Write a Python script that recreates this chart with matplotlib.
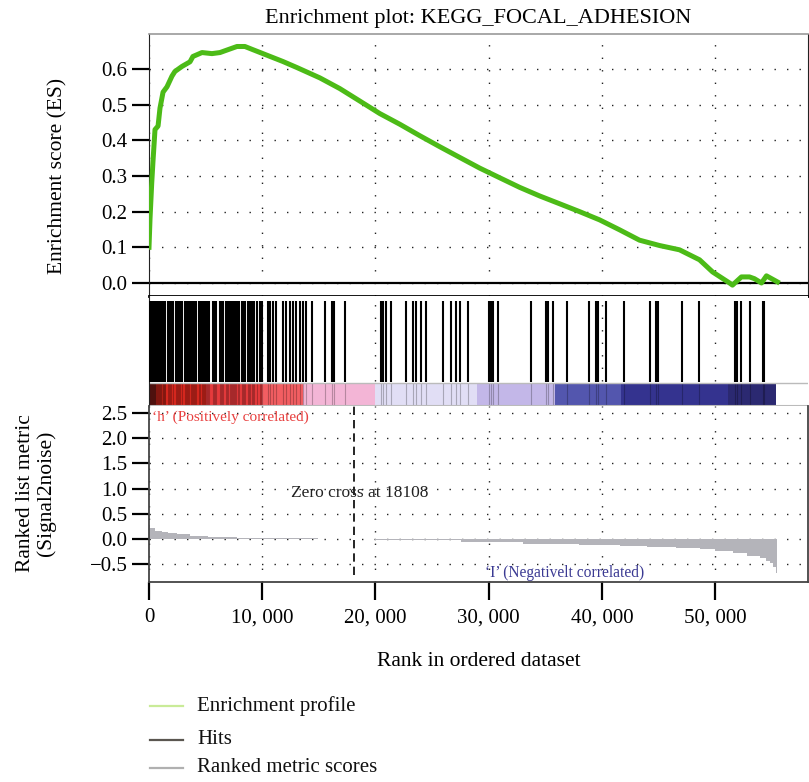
import numpy as np
import matplotlib
matplotlib.use("Agg")
import matplotlib.pyplot as plt
from matplotlib.lines import Line2D

plt.rcParams['font.family'] = ['Liberation Serif', 'DejaVu Serif']

# running enrichment score
es_rank = [0, 90, 240, 350, 530, 800, 970, 1240, 1590, 2030, 2290, 2910, 3620, 3880,
           4680, 5560, 6270, 6970, 7770, 8470, 9180, 10060, 10940, 11820, 13060, 15090,
           16850, 18620, 20380, 22150, 23910, 25680, 27440, 29210, 30970, 32740, 34500,
           36270, 38030, 39790, 41560, 43320, 45090, 46850, 48620, 49770, 51270, 51530,
           52320, 53030, 53470, 54090, 54530, 55500]
es_val = [0.10, 0.18, 0.28, 0.34, 0.43, 0.44, 0.49, 0.535, 0.55, 0.58, 0.593, 0.607,
          0.62, 0.635, 0.646, 0.643, 0.646, 0.654, 0.663, 0.663, 0.654, 0.643, 0.632,
          0.621, 0.604, 0.575, 0.545, 0.51, 0.475, 0.445, 0.413, 0.382, 0.352, 0.322,
          0.295, 0.268, 0.244, 0.222, 0.2, 0.177, 0.149, 0.12, 0.105, 0.093, 0.065,
          0.031, 0.0, -0.006, 0.017, 0.017, 0.012, 0.0, 0.02, 0.003]

# gene set hits (rank positions)
hits = [0, 60, 150, 240, 330, 420, 510, 600, 700, 800, 900, 1000, 1100, 1200, 1300,
        1400, 1680, 1780, 1880, 1980, 2080, 2380, 2480, 2580, 2680, 2780, 2880, 3170,
        3270, 3370, 3470, 3570, 3670, 3770, 3870, 3970, 4070, 4170, 4440, 4540, 4640,
        4740, 4840, 4940, 5040, 5140, 5240, 5340, 5640, 5740, 5840, 5940, 6260, 6360,
        6460, 6540, 6820, 6920, 7020, 7120, 7220, 7320, 7420, 7520, 7620, 7720, 7820,
        7920, 8200, 8300, 8400, 8480, 8760, 8860, 8960, 9060, 9160, 9260, 9540, 9800,
        9900, 10000, 10500, 10720, 10940, 11250, 11820, 12120, 12420, 12680, 12990,
        13300, 13560, 13830, 14360, 15530, 16120, 16300, 17310, 20530, 20680, 20940,
        21390, 22710, 23290, 23590, 24030, 24470, 25940, 26680, 27120, 27430, 28160,
        30060, 30240, 30410, 30850, 33700, 35080, 35250, 35640, 36880, 38870, 39520,
        39660, 40400, 41930, 44220, 44810, 44960, 47100, 48540, 51710, 51940, 52290,
        53100, 54260, 54340]

# ranked list metric
metric_rank = [0, 90, 530, 1120, 1680, 2440, 3620, 5200, 7740, 10830, 14910, 18108,
               20000, 27590, 33030, 38000, 41560, 44000, 46500, 48620, 50000, 51560,
               52800, 53920, 54500, 54800, 55100, 55390, 55450]
metric_val = [0.28, 0.21, 0.165, 0.145, 0.125, 0.093, 0.065, 0.045, 0.026, 0.012,
              0.003, -0.003, -0.01, -0.05, -0.10, -0.12, -0.14, -0.16, -0.18, -0.205,
              -0.24, -0.285, -0.33, -0.38, -0.43, -0.48, -0.56, -0.67, 0.0]

# colour bar bands
band_start = [0, 600, 1500, 5000, 10000, 13600, 20000, 28950, 35900, 41650, 51100]
band_end = [600, 1500, 5000, 10000, 13600, 20000, 28950, 35900, 41650, 51100, 55400]
band_color = ['#6e1a16', '#b52218', '#d9281f', '#e63a3c', '#f25e62', '#f3b5d6',
              '#e1def5', '#c3b7e8', '#5356ae', '#34338f', '#2b2971']

x_ticks = [0, 10000, 20000, 30000, 40000, 50000]
x_labels = ['0', '10, 000', '20, 000', '30, 000', '40, 000', '50, 000']
es_ticks = [0.0, 0.1, 0.2, 0.3, 0.4, 0.5, 0.6]
metric_ticks = [-0.5, 0.0, 0.5, 1.0, 1.5, 2.0, 2.5]
zero_cross = 18108

fig = plt.figure(figsize=(8.09, 7.82), dpi=100)
left, width = 149 / 809, 659 / 809
ax1 = fig.add_axes([left, 1 - 296 / 782, width, 262 / 782])
ax2 = fig.add_axes([left, 1 - 406 / 782, width, 110 / 782])
ax3 = fig.add_axes([left, 1 - 582 / 782, width, 176 / 782])

xmax = 58200
grid_kw = dict(color='#222222', linewidth=1.0, linestyle=(0, (1, 8)))

# top panel: enrichment score
ax1.plot(es_rank, es_val, color='#4cbb17', linewidth=3.6, solid_joinstyle='round', zorder=3)
ax1.axhline(0, color='black', linewidth=1.6, zorder=2)
ax1.set_xlim(0, xmax)
ax1.set_ylim(-0.0365, 0.698)
ax1.set_yticks(es_ticks)
ax1.set_yticklabels([f'{t:.1f}' for t in es_ticks])
ax1.set_xticks(x_ticks)
ax1.tick_params(axis='x', length=0, labelbottom=False)
ax1.tick_params(axis='y', length=12, width=1.6, labelsize=15)
ax1.grid(True, **grid_kw)
ax1.set_ylabel('Enrichment score (ES)', fontsize=15.5)
ax1.yaxis.set_label_coords(-0.123, 0.458)
ax1.set_title('Enrichment plot: KEGG_FOCAL_ADHESION', fontsize=16, pad=8)
for s in ['left', 'right']:
    ax1.spines[s].set_color('#222222')
ax1.spines['top'].set_color('#999999')
ax1.spines['top'].set_linewidth(1.2)
ax1.spines['bottom'].set_linewidth(2.0)
ax1.spines['bottom'].set_color('black')

# middle panel: hits and colour bar
bar_top = 23 / 110
for s, e, c in zip(band_start, band_end, band_color):
    ax2.axvspan(s, e, ymin=0, ymax=bar_top, color=c, linewidth=0, zorder=1)
ax2.vlines(hits, bar_top + 0.005, 0.955, color='black', linewidth=1.5, zorder=3)
ax2.vlines(hits, 0, bar_top, color='black', linewidth=0.8, alpha=0.25, zorder=2)
ax2.axhline(bar_top, color='#bbbbbb', linewidth=1.0, zorder=2)
ax2.axhline(0, color='#bbbbbb', linewidth=1.5, zorder=2)
ax2.set_xlim(0, xmax)
ax2.set_ylim(0, 1)
ax2.set_xticks(x_ticks)
ax2.set_yticks([])
ax2.tick_params(axis='x', length=0, labelbottom=False)
ax2.grid(True, axis='x', **grid_kw)
ax2.set_axisbelow(True)
for s in ['top', 'right', 'bottom']:
    ax2.spines[s].set_visible(False)
ax2.spines['left'].set_color('#222222')

# bottom panel: ranked list metric
ax3.fill_between(metric_rank, metric_val, 0, step='post', color='#b4b4ba', linewidth=0, zorder=2)
ax3.axvline(zero_cross, ymin=0.04, ymax=1, color='black', linewidth=1.2,
            linestyle=(0, (5, 3)), zorder=3)
ax3.text(zero_cross + 500, 0.91, f'Zero cross at {zero_cross}', ha='center', va='center',
         fontsize=12.5, color='#222222', zorder=4)
ax3.text(300, 2.42, '\u2018h\u2019 (Positively correlated)', ha='left', va='center',
         fontsize=11, color='#e8403f', zorder=4)
ax3.text(29700, -0.68, '\u2018I\u2019 (Negativelt correlated)', ha='left', va='center',
         fontsize=11.2, color='#3b3a93', zorder=4)
ax3.set_xlim(0, xmax)
ax3.set_ylim(-0.853, 2.639)
ax3.set_yticks(metric_ticks)
ax3.set_yticklabels([f'{t:.1f}'.replace('-', '\u2212') for t in metric_ticks])
ax3.set_xticks(x_ticks)
ax3.set_xticklabels(x_labels)
ax3.tick_params(axis='y', length=12, width=1.6, labelsize=15)
ax3.tick_params(axis='x', length=13, width=1.6, labelsize=15, pad=6)
ax3.grid(True, **grid_kw)
ax3.spines['top'].set_visible(False)
for s in ['left', 'right', 'bottom']:
    ax3.spines[s].set_color('#444444')
    ax3.spines[s].set_linewidth(1.3)
ax3.set_ylabel('Ranked list metric\n(Signal2noise)', fontsize=15.5, linespacing=1.1)
ax3.yaxis.set_label_coords(-0.141, 0.506)
ax3.set_xlabel('Rank in ordered dataset', fontsize=15.5)
ax3.xaxis.set_label_coords(0.5, -0.40)

# legend
legend_items = [('Enrichment profile', '#c9eb98'), ('Hits', '#5a5650'),
                ('Ranked metric scores', '#b0b0b0')]
legend_y = [706, 740, 768]
for (lab, col), yp in zip(legend_items, legend_y):
    yf = 1 - yp / 782
    fig.add_artist(Line2D([150 / 809, 183 / 809], [yf, yf], color=col, linewidth=1.6))
    fig.text(197 / 809, yf, lab, fontsize=15, va='center', ha='left', color='#111111')

fig.savefig('out.png', dpi=100)
